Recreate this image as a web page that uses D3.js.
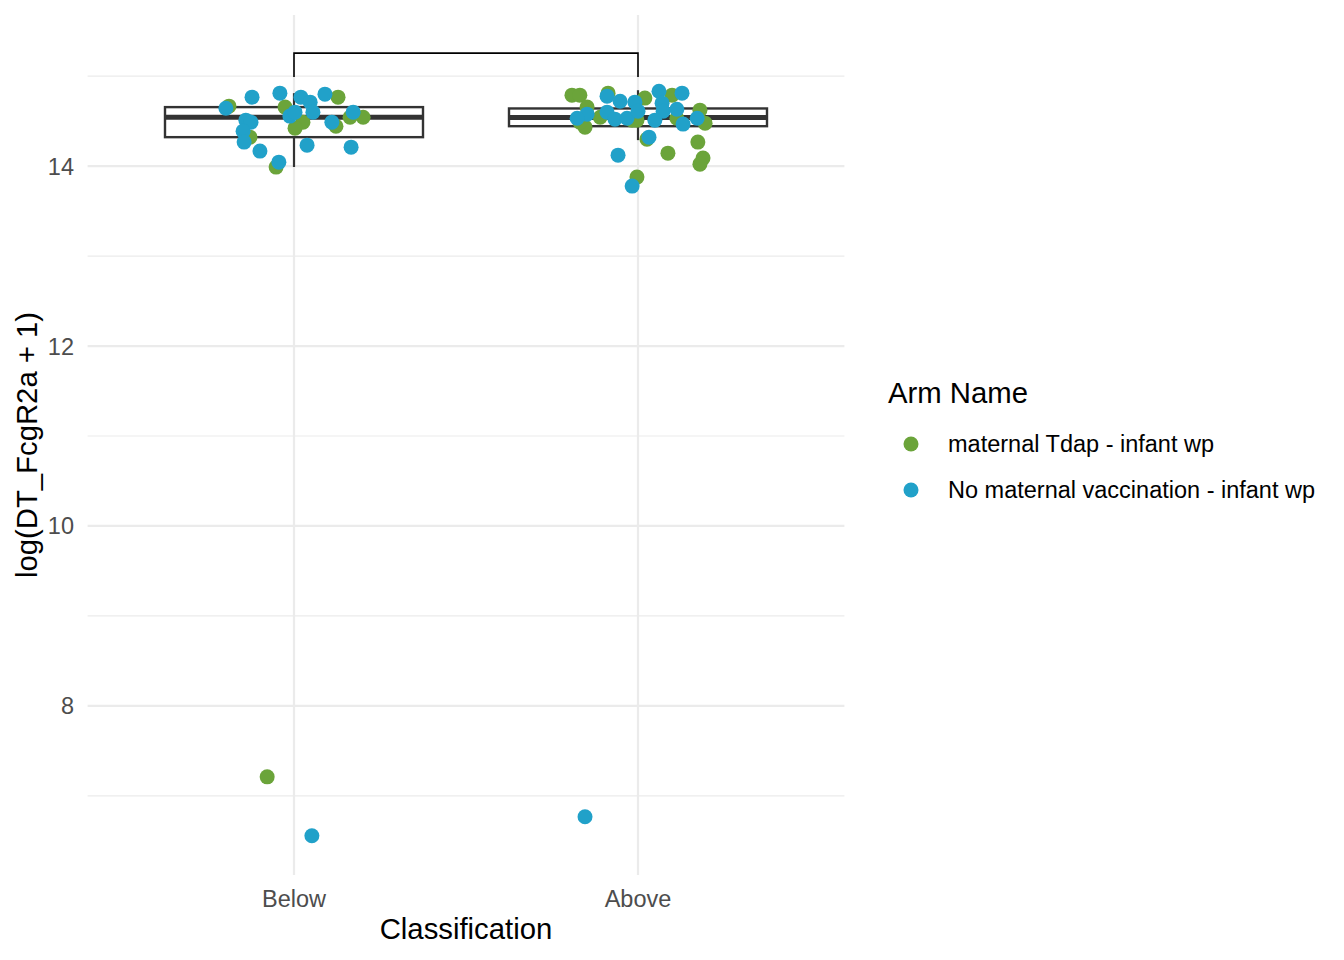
<!DOCTYPE html>
<html>
<head>
<meta charset="utf-8">
<script src="https://cdn.jsdelivr.net/npm/d3@7/dist/d3.min.js"></script>
<style>
html,body{margin:0;padding:0;background:#fff;}
svg text{font-family:"Liberation Sans",Arial,Helvetica,sans-serif;}
</style>
</head>
<body>
<svg id="chart" width="1344" height="960"></svg>
<script>
// ---- data ----
const categories = ["Below", "Above"];
const armNames = ["maternal Tdap - infant wp", "No maternal vaccination - infant wp"];
const armColors = ["#6BA43A", "#21A1C9"];
const yTicks = [8, 10, 12, 14];
const yMinorTicks = [7, 9, 11, 13, 15];

// Below, maternal Tdap
const belowTdapValues = [14.667, 14.322, 13.989, 14.656, 14.489, 14.422, 14.767, 14.444, 14.544, 14.544, 7.211];
const belowTdapJitter = [-0.189, -0.128, -0.052, -0.026, 0.026, 0.003, 0.128, 0.122, 0.163, 0.201, -0.078];
// Below, no maternal vaccination
const belowNoVacValues = [14.644, 14.767, 14.811, 14.511, 14.489, 14.389, 14.267, 14.167, 14.044, 14.767, 14.711, 14.8, 14.556, 14.6, 14.6, 14.6, 14.489, 14.233, 14.211, 6.556];
const belowNoVacJitter = [-0.198, -0.122, -0.041, -0.140, -0.125, -0.148, -0.145, -0.099, -0.044, 0.020, 0.047, 0.090, -0.012, 0.003, 0.055, 0.172, 0.110, 0.038, 0.166, 0.052];
// Above, maternal Tdap
const aboveTdapValues = [14.789, 14.789, 14.811, 14.656, 14.433, 14.489, 14.544, 14.511, 14.756, 14.789, 14.511, 14.533, 14.622, 14.478, 14.3, 14.267, 14.144, 14.089, 14.022, 13.878];
const aboveTdapJitter = [-0.192, -0.169, -0.087, -0.148, -0.154, -0.169, -0.110, -0.017, 0.020, 0.099, -0.003, 0.113, 0.180, 0.195, 0.026, 0.174, 0.087, 0.189, 0.180, -0.003];
// Above, no maternal vaccination
const aboveNoVacValues = [14.778, 14.722, 14.711, 14.578, 14.533, 14.6, 14.522, 14.533, 14.611, 14.833, 14.7, 14.811, 14.611, 14.633, 14.511, 14.467, 14.533, 14.322, 14.122, 13.778, 6.767];
const aboveNoVacJitter = [-0.090, -0.052, -0.009, -0.148, -0.177, -0.090, -0.067, -0.032, 0.0, 0.061, 0.070, 0.128, 0.073, 0.113, 0.049, 0.131, 0.172, 0.032, -0.058, -0.017, -0.154];

// box statistics per category
const boxLower  = [13.99, 14.289];
const boxQ1     = [14.322, 14.444];
const boxMedian = [14.544, 14.541];
const boxQ3     = [14.656, 14.641];
const boxUpper  = [14.811, 14.844];

// significance bracket
const bracketTop = 15.256;
const bracketLegEnd = [14.99, 14.99];

// ---- layout ----
const svg = d3.select("#chart");
const panel = {left: 87.6, right: 844.4, top: 15, bottom: 875};

const xPos = d3.scaleLinear().domain([0.4, 2.6]).range([panel.left, panel.right]);
const y = d3.scaleLinear().domain([6.12, 15.68]).range([panel.bottom, panel.top]);
const catIndex = d3.scaleOrdinal().domain(categories).range([1, 2]);

const gridColor = "#EBEBEB";
const g = svg.append("g");

// minor grid
g.selectAll(".minor").data(yMinorTicks).join("line")
  .attr("x1", panel.left).attr("x2", panel.right)
  .attr("y1", d => y(d)).attr("y2", d => y(d))
  .attr("stroke", gridColor).attr("stroke-width", 1.2);
// major grid
g.selectAll(".majorY").data(yTicks).join("line")
  .attr("x1", panel.left).attr("x2", panel.right)
  .attr("y1", d => y(d)).attr("y2", d => y(d))
  .attr("stroke", gridColor).attr("stroke-width", 2.2);
g.selectAll(".majorX").data(categories).join("line")
  .attr("x1", d => xPos(catIndex(d))).attr("x2", d => xPos(catIndex(d)))
  .attr("y1", panel.top).attr("y2", panel.bottom)
  .attr("stroke", gridColor).attr("stroke-width", 2.2);

// boxplots
const boxW = 0.75;
const boxColor = "#333333";
categories.forEach((c, i) => {
  const cx = xPos(catIndex(c));
  const bx0 = xPos(catIndex(c) - boxW / 2), bx1 = xPos(catIndex(c) + boxW / 2);
  g.append("line").attr("x1", cx).attr("x2", cx).attr("y1", y(boxQ3[i])).attr("y2", y(boxUpper[i]))
    .attr("stroke", boxColor).attr("stroke-width", 2.2);
  g.append("line").attr("x1", cx).attr("x2", cx).attr("y1", y(boxQ1[i])).attr("y2", y(boxLower[i]))
    .attr("stroke", boxColor).attr("stroke-width", 2.2);
  g.append("rect").attr("x", bx0).attr("y", y(boxQ3[i]))
    .attr("width", bx1 - bx0).attr("height", y(boxQ1[i]) - y(boxQ3[i]))
    .attr("fill", "#fff").attr("stroke", boxColor).attr("stroke-width", 2.4);
  g.append("line").attr("x1", bx0).attr("x2", bx1).attr("y1", y(boxMedian[i])).attr("y2", y(boxMedian[i]))
    .attr("stroke", boxColor).attr("stroke-width", 5);
});

// points
const groups = [
  {cat: "Below", arm: 0, v: belowTdapValues, j: belowTdapJitter},
  {cat: "Above", arm: 0, v: aboveTdapValues, j: aboveTdapJitter},
  {cat: "Below", arm: 1, v: belowNoVacValues, j: belowNoVacJitter},
  {cat: "Above", arm: 1, v: aboveNoVacValues, j: aboveNoVacJitter}
];
groups.forEach(grp => {
  const pts = grp.v.map((v, k) => ({v, j: grp.j[k]}));
  g.append("g").selectAll("circle").data(pts).join("circle")
    .attr("cx", d => xPos(catIndex(grp.cat) + d.j))
    .attr("cy", d => y(d.v))
    .attr("r", 7.5)
    .attr("fill", armColors[grp.arm]);
});

// bracket
const bx = categories.map(c => xPos(catIndex(c)));
g.append("path")
  .attr("d", `M${bx[0]},${y(bracketLegEnd[0])} L${bx[0]},${y(bracketTop)} L${bx[1]},${y(bracketTop)} L${bx[1]},${y(bracketLegEnd[1])}`)
  .attr("fill", "none").attr("stroke", "#000").attr("stroke-width", 1.6);

// axis labels
const tickFont = 23.5, titleFont = 29.3;
g.selectAll(".ytl").data(yTicks).join("text")
  .attr("x", 74).attr("y", d => y(d)).attr("dy", "0.36em")
  .attr("text-anchor", "end").attr("font-size", tickFont).attr("fill", "#4D4D4D")
  .text(d => d);
g.selectAll(".xtl").data(categories).join("text")
  .attr("x", d => xPos(catIndex(d))).attr("y", 907)
  .attr("text-anchor", "middle").attr("font-size", tickFont).attr("fill", "#4D4D4D")
  .text(d => d);

svg.append("text").attr("x", (panel.left + panel.right) / 2).attr("y", 938.5)
  .attr("text-anchor", "middle").attr("font-size", titleFont).attr("fill", "#000")
  .text("Classification");
svg.append("text")
  .attr("transform", `translate(36.5,${(panel.top + panel.bottom) / 2}) rotate(-90)`)
  .attr("text-anchor", "middle").attr("font-size", titleFont).attr("fill", "#000")
  .text("log(DT_FcgR2a + 1)");

// legend
svg.append("text").attr("x", 888).attr("y", 403).attr("font-size", titleFont).attr("fill", "#000")
  .text("Arm Name");
const legY = [444, 490];
armNames.forEach((n, i) => {
  svg.append("circle").attr("cx", 911).attr("cy", legY[i]).attr("r", 7.5).attr("fill", armColors[i]);
  svg.append("text").attr("x", 948).attr("y", legY[i]).attr("dy", "0.36em")
    .attr("font-size", tickFont).attr("fill", "#000").text(n);
});
</script>
</body>
</html>
